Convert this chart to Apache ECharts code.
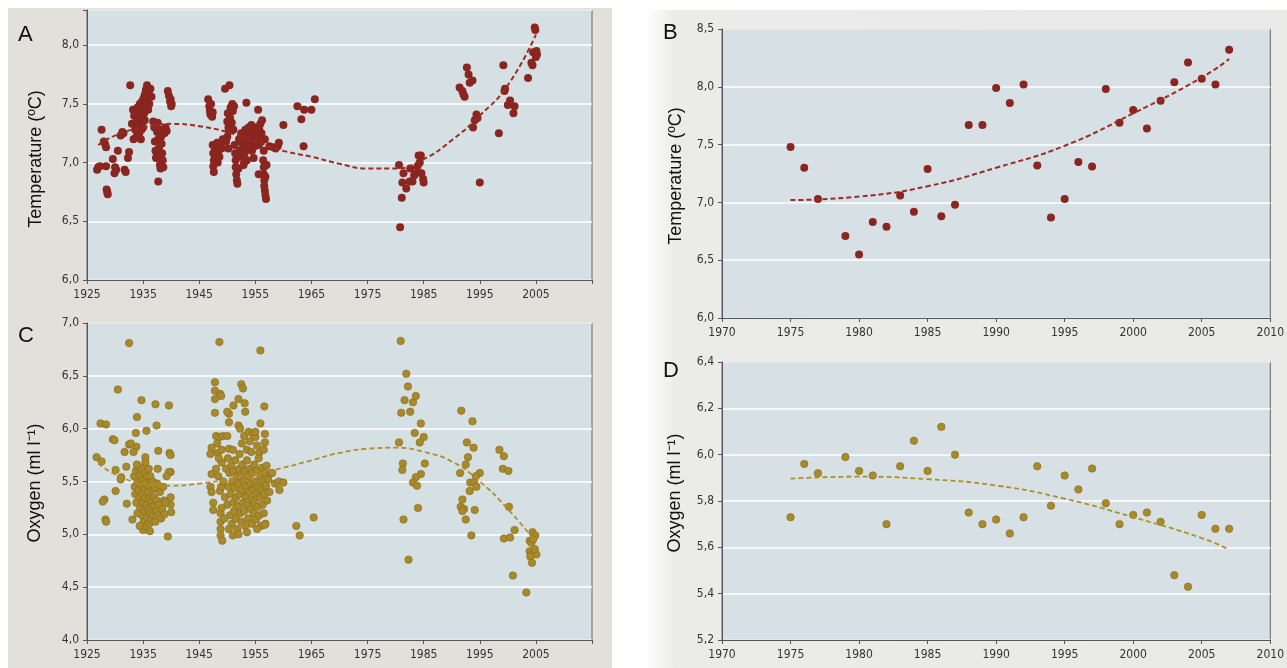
<!DOCTYPE html>
<html>
<head>
<meta charset="utf-8">
<script src="https://cdn.jsdelivr.net/npm/echarts@6.0.0/dist/echarts.min.js"></script>
<style>
html,body{margin:0;padding:0;background:#ffffff;}
#bgL{position:absolute;left:8px;top:8px;width:604px;height:660px;background:#e3e0dc;}
#bgR{position:absolute;left:645px;top:10px;width:642px;height:658px;background:linear-gradient(to right,#ffffff 0px,#ebebe9 30px,#e9e9e7 100%);}
#chart{position:absolute;left:0;top:0;width:1287px;height:668px;}
</style>
</head>
<body>
<div id="bgL"></div>
<div id="bgR"></div>
<div id="chart"></div>
<script>
// ---------- DATA ----------
// Panel A: temperature (year, °C)
const tempA = [
[1926.8,6.94],[1927.0,6.96],[1927.3,6.97],[1927.6,7.28],[1928.0,7.18],[1928.2,7.16],[1928.4,7.13],[1928.4,6.97],[1928.5,6.77],[1928.7,6.73],[1928.6,6.75],[1929.6,7.03],[1929.9,6.91],[1930.2,6.94],[1930.0,6.96],[1930.5,7.10],[1931.0,7.23],[1931.3,7.26],[1931.5,7.25],[1931.7,6.94],[1931.9,6.92],[1932.3,7.04],[1932.5,7.09],[1932.7,7.66],
[1933.0,7.33],[1933.2,7.45],[1933.3,7.20],[1933.4,7.40],[1933.5,7.33],[1933.6,7.28],[1933.8,7.22],[1933.9,7.36],[1934.0,7.47],[1934.0,7.22],[1934.1,7.30],[1934.2,7.42],[1934.3,7.25],[1934.4,7.50],[1934.5,7.35],[1934.6,7.44],[1934.6,7.20],[1934.7,7.28],[1934.8,7.52],[1934.9,7.38],[1935.0,7.46],[1935.0,7.30],[1935.1,7.55],[1935.2,7.42],[1935.3,7.58],[1935.3,7.36],[1935.4,7.48],[1935.5,7.62],[1935.6,7.52],[1935.7,7.66],[1935.8,7.57],[1935.9,7.45],[1936.0,7.60],[1936.1,7.50],[1936.3,7.63],[1936.5,7.56],
[1936.8,7.35],[1937.0,7.30],[1937.1,7.18],[1937.2,7.10],[1937.3,7.04],[1937.4,7.05],[1937.5,7.26],[1937.6,7.34],[1937.7,7.20],[1937.7,6.84],[1937.8,7.12],[1937.9,7.05],[1938.0,6.98],[1938.1,7.28],[1938.1,6.95],[1938.2,7.22],[1938.3,7.16],[1938.4,7.08],[1938.5,7.02],[1938.6,6.96],[1938.8,7.25],[1939.0,7.30],[1939.2,7.27],
[1939.4,7.61],[1939.6,7.57],[1939.8,7.52],[1939.9,7.54],[1940.0,7.48],[1940.1,7.50],
[1946.6,7.54],[1946.8,7.48],[1946.9,7.44],[1947.0,7.41],[1947.1,7.50],[1947.3,7.39],[1947.4,7.43],[1947.4,7.15],[1947.5,7.08],[1947.6,7.02],[1947.5,6.97],[1947.6,6.92],[1947.8,7.12],[1948.0,7.06],[1948.2,7.17],[1948.3,7.00],[1948.4,7.10],[1948.6,7.05],[1948.8,7.15],[1949.0,7.12],[1949.2,7.20],
[1949.6,7.63],[1950.4,7.66],[1950.0,7.35],[1950.1,7.42],[1950.2,7.30],[1950.3,7.27],[1950.5,7.38],[1950.6,7.47],[1950.8,7.34],[1950.9,7.50],[1951.0,7.44],[1951.2,7.48],[1951.1,7.28],[1950.0,7.22],[1949.8,7.18],[1950.2,7.12],
[1951.3,7.15],[1951.4,7.08],[1951.5,7.02],[1951.5,6.96],[1951.6,6.90],[1951.7,6.85],[1951.8,6.82],[1951.9,7.05],[1952.0,6.95],[1952.1,7.20],
[1952.2,7.10],[1952.4,7.18],[1952.5,7.25],[1952.6,7.05],[1952.8,7.14],[1952.9,6.98],[1953.0,7.22],[1953.0,7.00],[1953.1,7.08],[1953.2,7.28],[1953.3,7.16],[1953.4,7.51],[1953.5,7.02],[1953.6,7.24],[1953.7,7.12],[1953.8,7.30],[1953.9,7.20],[1954.0,7.26],[1954.1,7.15],[1954.2,7.22],[1954.3,7.32],[1954.4,7.10],[1954.5,7.18],[1954.6,7.27],[1954.7,7.04],[1954.8,7.22],[1954.9,7.14],[1955.0,7.25],[1955.1,7.30],[1955.2,7.20],[1955.4,7.24],[1955.5,7.45],[1955.6,7.15],[1955.6,6.90],[1955.7,7.28],[1955.8,7.22],[1955.9,7.33],[1956.0,7.18],[1956.1,7.25],[1956.2,7.36],
[1956.4,7.02],[1956.5,6.96],[1956.5,6.90],[1956.6,6.85],[1956.6,6.80],[1956.7,6.76],[1956.8,6.72],[1956.9,6.69],[1956.8,6.88],[1957.0,6.98],[1956.5,7.10],[1956.7,7.20],
[1957.5,7.14],[1958.2,7.13],[1958.6,7.12],[1959.0,7.14],[1959.2,7.17],[1960.0,7.32],
[1962.5,7.48],[1963.2,7.37],[1963.6,7.14],[1963.7,7.45],[1965.0,7.45],[1965.6,7.54],
[1980.6,6.98],[1981.1,6.70],[1980.8,6.45],[1981.4,6.91],[1981.2,6.83],[1981.9,6.78],[1982.5,6.84],[1982.6,6.95],[1983.0,6.84],[1983.3,6.89],[1983.6,6.91],[1983.9,6.97],[1984.1,7.06],[1984.5,7.06],[1984.6,6.91],[1984.9,6.86],[1985.0,6.83],[1984.3,7.00],
[1991.4,7.64],[1991.9,7.61],[1992.1,7.58],[1992.3,7.56],[1992.7,7.81],[1993.0,7.75],[1993.2,7.68],[1993.7,7.70],[1993.8,7.30],[1994.1,7.36],[1994.4,7.41],[1994.6,7.38],[1995.0,6.83],
[1998.4,7.25],[1999.2,7.83],[1999.4,7.61],[1999.5,7.63],[2000.0,7.49],[2000.4,7.53],[2001.0,7.42],[2001.2,7.48],
[2003.6,7.72],[2004.2,7.85],[2004.4,7.83],[2004.8,8.15],[2004.9,8.13],[2004.5,7.94],[2005.0,7.90],[2005.1,7.95],[2005.2,7.92]
];
const trendAYears = [1927,1930,1935,1940,1945,1950,1955,1960,1965,1970,1975,1980,1985,1990,1995,2000,2005];
const trendAValues = [7.15,7.23,7.30,7.33,7.31,7.26,7.18,7.10,7.05,6.99,6.95,6.95,7.03,7.19,7.40,7.66,8.09];

// Panel B: temperature yearly
const yearsB = [1975,1976,1977,1979,1980,1981,1982,1983,1984,1985,1986,1987,1988,1989,1990,1991,1992,1993,1994,1995,1996,1997,1998,1999,2000,2001,2002,2003,2004,2005,2006,2007];
const tempB = [7.48,7.30,7.03,6.71,6.55,6.83,6.79,7.06,6.92,7.29,6.88,6.98,7.67,7.67,7.99,7.86,8.02,7.32,6.87,7.03,7.35,7.31,7.98,7.69,7.80,7.64,7.88,8.04,8.21,8.07,8.02,8.32];
const trendBYears = [1975,1980,1985,1990,1995,2000,2005,2007];
const trendBValues = [7.02,7.05,7.14,7.30,7.49,7.77,8.08,8.24];

// Panel C: oxygen (year, ml/l)
const oxyC = [
[1926.7,5.73],[1927.6,5.69],[1927.4,6.05],[1928.4,6.04],[1929.6,5.90],[1929.9,5.89],[1930.1,5.61],[1930.1,5.41],[1928.1,5.33],[1927.8,5.31],[1928.3,5.14],[1928.4,5.12],[1930.5,6.37],[1932.5,6.81],[1931.7,5.78],[1932.5,5.85],[1933.8,5.83],[1932.0,5.64],[1931.1,5.54],[1931.0,5.52],[1932.1,5.29],[1933.1,5.14],[1934.7,6.27],[1933.9,6.11],[1933.7,5.96],[1935.6,5.98],[1937.4,6.03],[1937.2,6.23],[1939.6,6.22],[1937.7,5.79],[1939.7,5.77],[1939.9,5.75],[1939.9,5.59],[1939.4,4.98],[1935.0,5.04],[1936.2,5.03],[1932.8,5.86],[1933.3,5.78],[1935.4,5.73],[1935.4,5.68],[1937.6,5.62],[1939.6,5.59],[1939.9,5.35],[1939.9,5.28],[1940.0,5.21],[1938.7,5.32],
[1933.4,5.55],[1933.5,5.45],[1933.6,5.38],[1933.7,5.60],[1933.8,5.30],[1934.0,5.50],[1934.1,5.64],[1934.2,5.42],[1934.3,5.35],[1934.4,5.56],[1934.5,5.25],[1934.6,5.47],[1934.7,5.62],[1934.8,5.18],[1934.9,5.38],[1935.0,5.52],[1935.0,5.30],[1935.1,5.12],[1935.2,5.44],[1935.3,5.58],[1935.3,5.22],[1935.4,5.35],[1935.5,5.48],[1935.5,5.08],[1935.6,5.28],[1935.7,5.16],[1935.7,5.55],[1935.8,5.40],[1935.9,5.24],[1936.0,5.62],[1936.0,5.33],[1936.1,5.10],[1936.2,5.46],[1936.3,5.20],[1936.3,5.55],[1936.4,5.30],[1936.5,5.14],[1936.6,5.42],[1936.6,5.26],[1936.7,5.50],[1936.8,5.18],[1936.9,5.35],[1937.0,5.27],[1937.1,5.44],[1937.2,5.12],[1937.3,5.22],[1937.4,5.32],[1937.5,5.48],[1937.6,5.18],[1937.8,5.28],[1938.0,5.40],[1938.2,5.15],[1938.4,5.24],[1938.6,5.45],[1938.8,5.19],[1939.0,5.30],[1939.2,5.55],[1934.0,5.20],[1934.4,5.08],[1933.9,5.66],
[1947.8,6.44],[1947.8,6.36],[1952.5,6.42],[1952.8,6.38],[1948.7,6.33],[1948.9,6.31],[1947.8,6.28],[1952.0,6.28],[1953.1,6.24],[1951.1,6.22],[1956.6,6.21],[1950.3,6.14],[1950.0,6.16],[1947.8,6.15],[1953.2,6.16],[1950.3,6.06],[1955.9,6.05],[1952.0,6.03],[1952.3,6.00],[1948.6,6.82],[1955.9,6.74],
[1953.0,5.93],[1953.8,5.97],[1954.6,5.95],[1955.0,5.92],[1956.7,5.95],[1956.7,5.87],[1948.0,5.93],[1948.6,5.92],[1949.2,5.93],[1950.0,5.93],[1948.2,5.86],[1952.6,5.86],[1954.0,5.88],[1955.3,5.84],[1947.2,5.82],[1947.0,5.76],[1948.3,5.77],[1949.0,5.80],[1950.3,5.81],[1951.0,5.80],[1952.2,5.76],[1953.5,5.80],[1954.3,5.78],[1955.7,5.77],[1956.5,5.80],
[1947.2,5.57],[1947.0,5.45],[1947.2,5.40],[1947.5,5.30],[1947.5,5.23],[1948.7,5.41],[1948.9,5.45],[1948.8,5.20],[1948.8,5.12],[1948.8,5.05],[1948.8,4.99],[1951.0,4.99],[1949.1,4.94],
[1948.0,5.62],[1948.4,5.55],[1949.0,5.68],[1949.3,5.50],[1949.6,5.35],[1949.8,5.62],[1950.0,5.28],[1950.1,5.72],[1950.2,5.45],[1950.4,5.58],[1950.5,5.18],[1950.6,5.38],[1950.7,5.65],[1950.8,5.10],[1950.9,5.50],[1951.0,5.30],[1951.1,5.60],[1951.2,5.22],[1951.3,5.44],[1951.4,5.70],[1951.5,5.15],[1951.6,5.35],[1951.7,5.55],[1951.8,5.05],[1951.9,5.27],[1952.0,5.48],[1952.1,5.62],[1952.2,5.38],[1952.3,5.20],[1952.4,5.55],[1952.5,5.12],[1952.6,5.42],[1952.7,5.66],[1952.8,5.30],[1952.9,5.50],[1953.0,5.22],[1953.1,5.60],[1953.2,5.08],[1953.3,5.36],[1953.4,5.46],[1953.5,5.70],[1953.6,5.28],[1953.7,5.15],[1953.8,5.55],[1953.9,5.40],[1954.0,5.62],[1954.1,5.24],[1954.2,5.48],[1954.3,5.33],[1954.4,5.10],[1954.5,5.58],[1954.6,5.42],[1954.7,5.20],[1954.8,5.66],[1954.9,5.30],[1955.0,5.50],[1955.1,5.14],[1955.2,5.38],[1955.3,5.60],[1955.4,5.26],[1955.5,5.45],[1955.6,5.72],[1955.7,5.18],[1955.8,5.35],[1955.9,5.55],[1956.0,5.08],[1956.1,5.42],[1956.2,5.63],[1956.3,5.28],[1956.4,5.50],[1956.5,5.20],[1956.6,5.38],[1956.7,5.58],[1956.8,5.10],[1956.9,5.46],[1957.0,5.65],[1957.1,5.32],[1957.3,5.52],[1957.5,5.40],[1957.8,5.58],[1958.0,5.58],[1958.5,5.48],[1959.3,5.42],[1959.2,5.50],[1960.0,5.49],[1949.5,5.15],[1950.3,5.05],[1952.0,5.00],[1953.5,5.02],[1955.3,5.05],[1956.7,5.09],[1949.0,5.25],[1948.5,5.72],[1955.0,5.97],
[1962.3,5.08],[1962.9,4.99],[1965.4,5.16],
[1980.9,6.83],[1981.9,6.52],[1982.2,6.40],[1981.6,6.27],[1983.1,6.25],[1983.6,6.31],[1982.6,6.16],[1981.0,6.15],[1984.5,6.05],[1983.4,5.96],[1985.0,5.92],[1984.3,5.87],[1980.6,5.87],[1981.3,5.67],[1981.2,5.61],[1985.2,5.67],[1984.5,5.57],[1983.6,5.54],[1983.1,5.49],[1983.8,5.46],[1984.0,5.25],[1981.4,5.14],[1982.3,4.76],
[1991.7,6.17],[1993.7,6.07],[1992.7,5.87],[1993.9,5.82],[1992.9,5.73],[1992.5,5.66],[1991.5,5.58],[1995.0,5.58],[1994.3,5.55],[1993.3,5.49],[1994.0,5.49],[1994.4,5.45],[1993.2,5.41],[1991.9,5.33],[1991.6,5.26],[1992.2,5.24],[1991.9,5.22],[1992.5,5.14],[1994.1,5.23],[1993.5,4.99],
[1998.5,5.80],[1999.3,5.74],[1999.1,5.62],[2000.1,5.60],[2000.2,5.26],[2001.2,5.04],[1999.3,4.96],[2000.4,4.97],[2000.9,4.61],[2003.3,4.45],[2004.4,5.02],[2004.9,4.99],[2003.9,4.94],[2004.2,4.92],[2004.5,4.95],[2003.9,4.84],[2004.4,4.81],[2005.1,4.81],[2004.0,4.79],[2004.3,4.73],[2004.8,4.86]
];
const trendCYears = [1927,1930,1935,1940,1945,1950,1955,1960,1965,1970,1975,1980,1985,1990,1995,2000,2004.5];
const trendCValues = [5.67,5.57,5.48,5.46,5.48,5.52,5.57,5.63,5.70,5.77,5.81,5.82,5.78,5.69,5.50,5.24,4.96];

// Panel D: oxygen yearly
const yearsD = [1975,1976,1977,1979,1980,1981,1982,1983,1984,1985,1986,1987,1988,1989,1990,1991,1992,1993,1994,1995,1996,1997,1998,1999,2000,2001,2002,2003,2004,2005,2006,2007];
const oxyD = [5.73,5.96,5.92,5.99,5.93,5.91,5.70,5.95,6.06,5.93,6.12,6.00,5.75,5.70,5.72,5.66,5.73,5.95,5.78,5.91,5.85,5.94,5.79,5.70,5.74,5.75,5.71,5.48,5.43,5.74,5.68,5.68];
const trendDYears = [1975,1980,1985,1990,1995,2000,2005,2007];
const trendDValues = [5.897,5.905,5.894,5.867,5.81,5.73,5.64,5.59];

const panelLetters = ['A','B','C','D'];
const yTitleTemp = 'Temperature (ºC)';
const yTitleOxy = 'Oxygen (ml l⁻¹)';

// ---------- CHART ----------
const zip = (xs, ys) => xs.map((x, i) => [x, ys[i]]);
const RED = '#8a2520', GOLD = '#a98a2a';
const labelFont = "'Liberation Sans Narrow','DejaVu Sans Condensed','Liberation Sans',sans-serif";
const titleFont = "'Liberation Sans',Arial,sans-serif";

function comma(v, step) {
  const r = Math.round(v / step) * step;
  if (Math.abs(r - v) > 1e-6) return '';
  return v.toFixed(1).replace('.', ',');
}
function xAxis(gi, min, max, interval, lastLabel) {
  return {
    type: 'value', gridIndex: gi, min: min, max: max, interval: interval,
    axisLine: { show: true, onZero: false, lineStyle: { color: '#555', width: 1 } },
    axisTick: { show: true, length: 4, lineStyle: { color: '#555' } },
    splitLine: { show: false },
    axisLabel: { color: '#333', fontFamily: labelFont, fontSize: 12, margin: 9,
      formatter: v => (v <= lastLabel ? String(Math.round(v)) : '') }
  };
}
function yAxis(gi, min, max, interval) {
  return {
    type: 'value', gridIndex: gi, min: min, max: max, interval: interval,
    axisLine: { show: true, onZero: false, lineStyle: { color: '#555', width: 1 } },
    axisTick: { show: true, length: 4, lineStyle: { color: '#555' } },
    splitLine: { show: true, lineStyle: { color: '#ffffff', width: 1.5 } },
    axisLabel: { color: '#333', fontFamily: labelFont, fontSize: 12, margin: 8,
      formatter: v => comma(v, interval) }
  };
}
const gridBase = { show: true, borderColor: '#666', borderWidth: 1, containLabel: false };

const option = {
  animation: false,
  backgroundColor: 'transparent',
  grid: [
    Object.assign({ left: 87, top: 10, width: 505, height: 270, backgroundColor: '#d5e0e4' }, gridBase),
    Object.assign({ left: 722, top: 29, width: 553, height: 289, backgroundColor: '#d7e1e5' }, gridBase),
    Object.assign({ left: 87, top: 323, width: 505, height: 317, backgroundColor: '#d5e0e4' }, gridBase),
    Object.assign({ left: 722, top: 362, width: 553, height: 278, backgroundColor: '#d7e1e5' }, gridBase)
  ],
  xAxis: [
    xAxis(0, 1925, 2015, 10, 2005),
    xAxis(1, 1970, 2010, 5, 2010),
    xAxis(2, 1925, 2015, 10, 2005),
    xAxis(3, 1970, 2010, 5, 2010)
  ],
  yAxis: [
    yAxis(0, 6.0, 8.3, 0.5),
    yAxis(1, 6.0, 8.5, 0.5),
    yAxis(2, 4.0, 7.0, 0.5),
    yAxis(3, 5.2, 6.4, 0.2)
  ],
  graphic: [
    { type: 'text', left: 18, top: 24, style: { text: panelLetters[0], font: '22px ' + titleFont, fill: '#111' } },
    { type: 'text', left: 663, top: 22, style: { text: panelLetters[1], font: '22px ' + titleFont, fill: '#111' } },
    { type: 'text', left: 18, top: 325, style: { text: panelLetters[2], font: '22px ' + titleFont, fill: '#111' } },
    { type: 'text', left: 663, top: 360, style: { text: panelLetters[3], font: '22px ' + titleFont, fill: '#111' } },
    { type: 'text', x: 36, y: 159, rotation: Math.PI / 2, style: { text: yTitleTemp, font: '18px ' + titleFont, fill: '#111', align: 'center', verticalAlign: 'middle' } },
    { type: 'text', x: 676, y: 176, rotation: Math.PI / 2, style: { text: yTitleTemp, font: '18px ' + titleFont, fill: '#111', align: 'center', verticalAlign: 'middle' } },
    { type: 'text', x: 35, y: 483, rotation: Math.PI / 2, style: { text: yTitleOxy, font: '18px ' + titleFont, fill: '#111', align: 'center', verticalAlign: 'middle' } },
    { type: 'text', x: 675, y: 493, rotation: Math.PI / 2, style: { text: yTitleOxy, font: '18px ' + titleFont, fill: '#111', align: 'center', verticalAlign: 'middle' } }
  ],
  series: [
    { type: 'scatter', xAxisIndex: 0, yAxisIndex: 0, data: tempA, symbolSize: 8,
      itemStyle: { color: RED, opacity: 1 }, z: 3 },
    { type: 'line', xAxisIndex: 0, yAxisIndex: 0, data: zip(trendAYears, trendAValues), smooth: true, showSymbol: false,
      lineStyle: { color: '#9a2c24', width: 2, type: [5, 3] }, z: 4 },
    { type: 'scatter', xAxisIndex: 1, yAxisIndex: 1, data: zip(yearsB, tempB), symbolSize: 8,
      itemStyle: { color: RED, opacity: 1 }, z: 3 },
    { type: 'line', xAxisIndex: 1, yAxisIndex: 1, data: zip(trendBYears, trendBValues), smooth: true, showSymbol: false,
      lineStyle: { color: '#9a2c24', width: 2, type: [5, 3] }, z: 4 },
    { type: 'scatter', xAxisIndex: 2, yAxisIndex: 2, data: oxyC, symbolSize: 7.5,
      itemStyle: { color: GOLD, borderColor: '#86691c', borderWidth: 0.6, opacity: 1 }, z: 3 },
    { type: 'line', xAxisIndex: 2, yAxisIndex: 2, data: zip(trendCYears, trendCValues), smooth: true, showSymbol: false,
      lineStyle: { color: '#b08f2a', width: 1.8, type: [5, 3] }, z: 4 },
    { type: 'scatter', xAxisIndex: 3, yAxisIndex: 3, data: zip(yearsD, oxyD), symbolSize: 7.5,
      itemStyle: { color: GOLD, borderColor: '#86691c', borderWidth: 0.6, opacity: 1 }, z: 3 },
    { type: 'line', xAxisIndex: 3, yAxisIndex: 3, data: zip(trendDYears, trendDValues), smooth: true, showSymbol: false,
      lineStyle: { color: '#b08f2a', width: 1.8, type: [5, 3] }, z: 4 }
  ]
};
const chart = echarts.init(document.getElementById('chart'), null, { renderer: 'canvas' });
chart.setOption(option);
</script>
</body>
</html>
